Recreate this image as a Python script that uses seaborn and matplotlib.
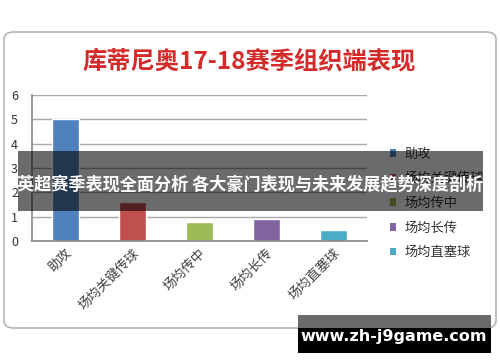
import matplotlib
matplotlib.use("Agg")
import matplotlib.pyplot as plt
import seaborn as sns
import pandas as pd
from matplotlib.patches import FancyBboxPatch, Rectangle, Patch

categories = ['助攻', '场均关键传球', '场均传中', '场均长传', '场均直塞球']
values = [5.0, 1.6, 0.8, 0.9, 0.45]
colors = ['#4f81bd', '#c0504d', '#9bbb59', '#8064a2', '#4bacc6']
yticks = [0, 1, 2, 3, 4, 5, 6]
title = '库蒂尼奥17-18赛季组织端表现'
banner = '英超赛季表现全面分析 各大豪门表现与未来发展趋势深度剖析'
watermark = 'www.zh-j9game.com'

sns.set_theme(style='white')
plt.rcParams['font.family'] = ['Noto Sans CJK SC', 'DejaVu Sans']

W, H = 500, 362
fig = plt.figure(figsize=(W / 100, H / 100), dpi=100)
fig.patch.set_facecolor('white')

def fx(x):
    return x / W

def fy(y):
    return 1 - y / H

# chart frame
frame = FancyBboxPatch((fx(4), fy(328)), fx(492), 296 / H,
                       boxstyle='round,pad=0,rounding_size=0.02',
                       transform=fig.transFigure, facecolor='white',
                       edgecolor='#b5b5b5', linewidth=1.2, zorder=-1)
fig.add_artist(frame)

ax = fig.add_axes([fx(32), fy(241), fx(335), (241 - 95) / H])
df = pd.DataFrame({'cat': categories, 'val': values})
sns.barplot(data=df, x='cat', y='val', hue='cat', palette=colors,
            width=0.41, legend=False, ax=ax, saturation=1)
ax.set_ylim(0, 6)
ax.set_yticks(yticks)
ax.set_yticklabels([str(t) for t in yticks], fontsize=9, color='#333333')
ax.set_xlabel('')
ax.set_ylabel('')
ax.set_xlim(-0.5, len(categories) - 0.5)
ax.yaxis.grid(True, color='#a8a8a8', linewidth=1)
ax.set_axisbelow(True)
for s in ['top', 'right']:
    ax.spines[s].set_visible(False)
ax.spines['left'].set_color('#8c8c8c')
ax.spines['bottom'].set_color('#8c8c8c')
ax.tick_params(axis='both', length=0)
ax.tick_params(axis='y', pad=10)
ax.set_xticks(range(len(categories)))
ax.set_xticklabels(categories, rotation=45, ha='right', rotation_mode='anchor',
                   fontsize=9.5, color='#404040')
ax.tick_params(axis='x', pad=4)

handles = [Patch(facecolor=c, edgecolor='none') for c in colors]
fig.legend(handles, categories, loc='upper left',
           bbox_to_anchor=(fx(383), fy(141)), frameon=False, fontsize=9.5,
           handlelength=0.5, handleheight=0.5, handletextpad=0.6,
           labelspacing=0.88, borderpad=0, labelcolor='#333333')

fig.text(fx(249), fy(61), title, color='#d42a2a', fontsize=17.5,
         fontweight='bold', ha='center', va='center')

# overlay banner
fig.add_artist(Rectangle((fx(18), fy(211)), fx(465), 60 / H,
                         transform=fig.transFigure, facecolor='black',
                         alpha=0.58, edgecolor='none', zorder=10))
fig.text(fx(250), fy(184), banner, color='white', fontsize=12.3,
         fontweight='bold', ha='center', va='center', zorder=11)

# watermark
fig.add_artist(Rectangle((fx(298), fy(328)), fx(193), 13 / H,
                         transform=fig.transFigure, facecolor='#6a6a6a',
                         edgecolor='none', zorder=10))
fig.add_artist(Rectangle((fx(298), fy(353)), fx(193), 25 / H,
                         transform=fig.transFigure, facecolor='black',
                         edgecolor='none', zorder=10))
fig.text(fx(394), fy(336), watermark, color='white', fontsize=11.5,
         fontweight='bold', ha='center', va='center', zorder=11,
         family=['DejaVu Sans'])

fig.savefig('out.png', dpi=100)
